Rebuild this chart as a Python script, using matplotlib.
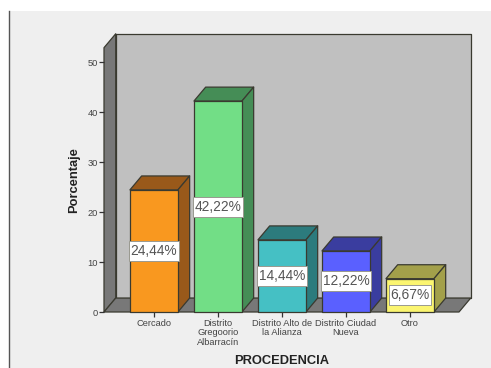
import matplotlib
matplotlib.use("Agg")
import matplotlib.pyplot as plt
from matplotlib.patches import Polygon, Rectangle

plt.rcParams["font.family"] = ["Liberation Sans", "DejaVu Sans"]

categories = ["Cercado", "Distrito\nGregoorio\nAlbarracín", "Distrito Alto de\nla Alianza",
              "Distrito Ciudad\nNueva", "Otro"]
values = [24.44, 42.22, 14.44, 12.22, 6.67]
front_colors = ["#f9981f", "#72de86", "#45c0c4", "#5a60ff", "#fbf570"]
side_colors = ["#99591a", "#458d56", "#2c7b7d", "#3a3d9f", "#a3a04a"]
y_ticks = [0, 10, 20, 30, 40, 50]

W, H = 491, 368
fig = plt.figure(figsize=(W / 100, H / 100), dpi=100, facecolor="white")

# Grey panel behind the plot, with a dark rule on its left side
panel = fig.add_axes([0, 0, 1, 1], zorder=0)
panel.set_xlim(0, W)
panel.set_ylim(H, 0)
panel.axis("off")
panel.add_patch(Rectangle((10, 11), W - 10, H - 11, fc="#efefef", ec="none"))
panel.plot([9.5, 9.5], [11, H], color="#555555", lw=1)

# Axes rectangle is the front plane of the 3D box
left, right, top, bottom = 104, 459, 47.7, 312
ax = fig.add_axes([left / W, 1 - bottom / H, (right - left) / W, (bottom - top) / H], zorder=1)
x0, x1 = -0.78, 4.766
y0, y1 = 0, 52.9
ax.set_xlim(x0, x1)
ax.set_ylim(y0, y1)
ax.patch.set_visible(False)
for s in ax.spines.values():
    s.set_visible(False)

DX, DY = 0.183, 2.79
BAR_W = 0.75
EDGE = dict(edgecolor="#3a3a30", linewidth=0.9, joinstyle="round", clip_on=False)


def face(points, color, z):
    ax.add_patch(Polygon(points, closed=True, facecolor=color, zorder=z, **EDGE))


# Walls and floor
face([(x0 + DX, y0 + DY), (x1 + DX, y0 + DY), (x1 + DX, y1 + DY), (x0 + DX, y1 + DY)], "#c0c0c0", 1)
face([(x0, y0), (x0 + DX, y0 + DY), (x0 + DX, y1 + DY), (x0, y1)], "#787878", 1)
face([(x0, y0), (x1, y0), (x1 + DX, y0 + DY), (x0 + DX, y0 + DY)], "#787878", 1)

# Bars with their top and side faces
for i, (v, fc, sc) in enumerate(zip(values, front_colors, side_colors)):
    a, b = i - BAR_W / 2, i + BAR_W / 2
    face([(a, v), (b, v), (b + DX, v + DY), (a + DX, v + DY)], sc, 3)
    face([(b, 0), (b + DX, DY), (b + DX, v + DY), (b, v)], sc, 3)
    face([(a, 0), (b, 0), (b, v), (a, v)], fc, 4)

ax.set_xticks(range(len(categories)))
ax.set_xticklabels(categories, fontsize=6.7, color="#444444", linespacing=1.03)
ax.set_yticks(y_ticks)
ax.set_yticklabels([str(t) for t in y_ticks], fontsize=6.7, color="#444444")
ax.tick_params(axis="x", length=3.6, width=0.9, color="#333333", pad=1.6)
ax.tick_params(axis="y", length=3.6, width=0.9, color="#333333", pad=0.6)

# Percentage labels on white boxes at mid-height of each bar
fig.canvas.draw()
renderer = fig.canvas.get_renderer()
inv = ax.transData.inverted()
for i, v in enumerate(values):
    label = f"{v:.2f}".replace(".", ",") + "%"
    t = ax.text(i, v / 2, label, ha="center", va="center", fontsize=9.9,
                color="#555555", zorder=7)
    box = t.get_window_extent(renderer)
    (xa, _), (xb, _) = inv.transform([(box.x0 - 1.5, 0), (box.x1 + 1.5, 0)])
    half_h = 10 / ((bottom - top) / (y1 - y0))
    ax.add_patch(Rectangle((xa, v / 2 - half_h), xb - xa, 2 * half_h, fc="white",
                           ec="#99998f", lw=0.7, zorder=6))

fig.text(74 / W, 1 - 180 / H, "Porcentaje", rotation=90, ha="center", va="center",
         fontsize=9.3, fontweight="bold", color="#222222")
fig.text(282 / W, 1 - 361 / H, "PROCEDENCIA", ha="center", va="center",
         fontsize=9.3, fontweight="bold", color="#222222")

fig.savefig("out.png", dpi=100, facecolor="white")
